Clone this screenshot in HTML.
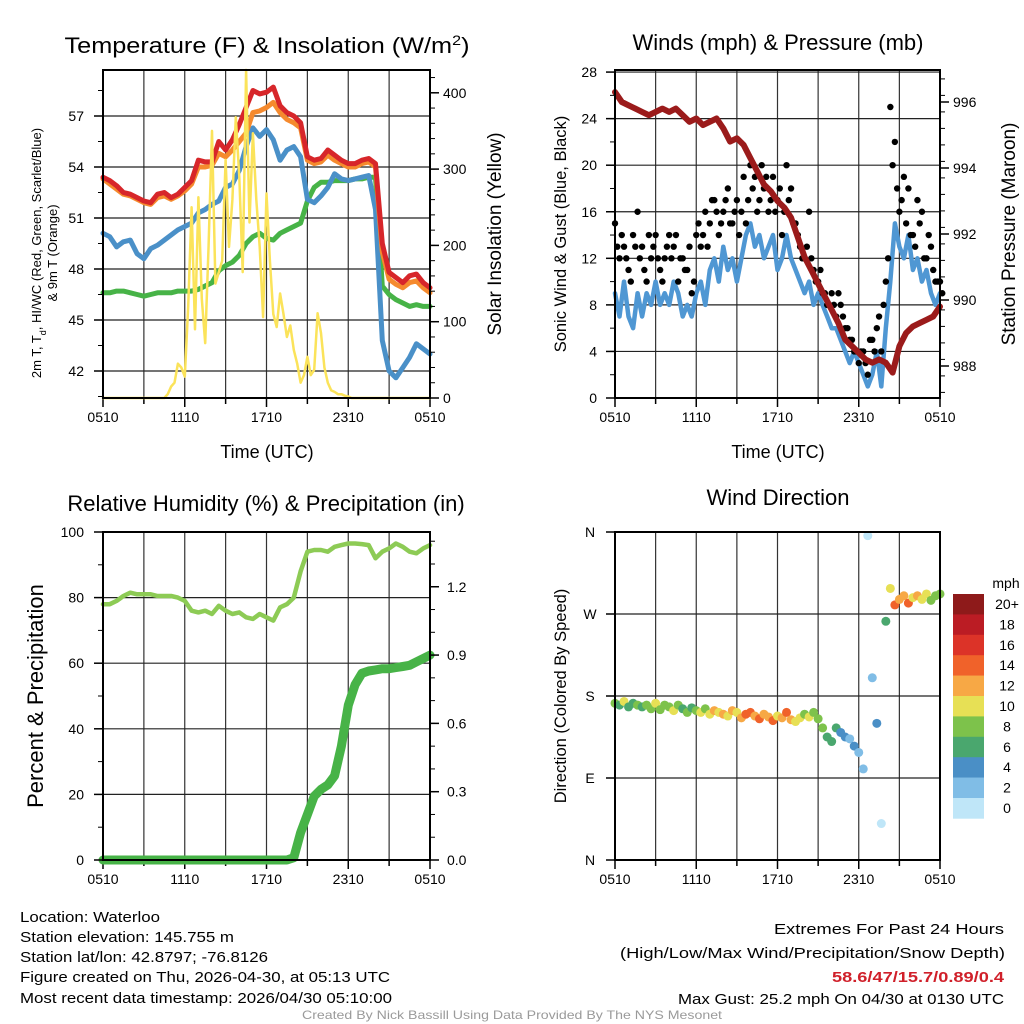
<!DOCTYPE html>
<html><head><meta charset="utf-8"><style>
html,body{margin:0;padding:0;background:#fff}
svg{display:block;font-family:"Liberation Sans",sans-serif}
</style></head><body>
<svg id="c" width="1024" height="1024" viewBox="0 0 1024 1024">
<rect width="1024" height="1024" fill="#fff"/>
<text x="267" y="53" font-size="22" text-anchor="middle" textLength="405" lengthAdjust="spacingAndGlyphs">Temperature (F) &amp; Insolation (W/m<tspan baseline-shift="super" font-size="14">2</tspan>)</text>
<text x="778" y="50" font-size="22" text-anchor="middle">Winds (mph) &amp; Pressure (mb)</text>
<text x="266" y="511" font-size="22" text-anchor="middle">Relative Humidity (%) &amp; Precipitation (in)</text>
<text x="778" y="505" font-size="22" text-anchor="middle">Wind Direction</text>

<text transform="translate(41,253) rotate(-90)" font-size="13" text-anchor="middle">2m T, T<tspan baseline-shift="sub" font-size="9">d</tspan>, HI/WC (Red, Green, Scarlet/Blue)</text>
<text transform="translate(57,253) rotate(-90)" font-size="13" text-anchor="middle">&amp; 9m T (Orange)</text>
<text transform="translate(501,234) rotate(-90)" font-size="19" text-anchor="middle">Solar Insolation (Yellow)</text>
<text transform="translate(566,234) rotate(-90)" font-size="16.5" text-anchor="middle">Sonic Wind &amp; Gust (Blue, Black)</text>
<text transform="translate(1015,234) rotate(-90)" font-size="19" text-anchor="middle">Station Pressure (Maroon)</text>
<text transform="translate(43,696) rotate(-90)" font-size="22" text-anchor="middle">Percent &amp; Precipitation</text>
<text transform="translate(566,696) rotate(-90)" font-size="16.5" text-anchor="middle">Direction (Colored By Speed)</text>
<text x="267" y="458" font-size="18" text-anchor="middle">Time (UTC)</text>
<text x="778" y="458" font-size="18" text-anchor="middle">Time (UTC)</text>

<g font-size="15">
<text x="20" y="922" textLength="140" lengthAdjust="spacingAndGlyphs">Location: Waterloo</text>
<text x="20" y="942" textLength="214" lengthAdjust="spacingAndGlyphs">Station elevation: 145.755 m</text>
<text x="20" y="962" textLength="248" lengthAdjust="spacingAndGlyphs">Station lat/lon: 42.8797; -76.8126</text>
<text x="20" y="982" textLength="370" lengthAdjust="spacingAndGlyphs">Figure created on Thu, 2026-04-30, at 05:13 UTC</text>
<text x="20" y="1003" textLength="372" lengthAdjust="spacingAndGlyphs">Most recent data timestamp: 2026/04/30 05:10:00</text>
</g>
<g font-size="15" text-anchor="end">
<text x="1004" y="934" textLength="230" lengthAdjust="spacingAndGlyphs">Extremes For Past 24 Hours</text>
<text x="1005" y="958" textLength="385" lengthAdjust="spacingAndGlyphs">(High/Low/Max Wind/Precipitation/Snow Depth)</text>
<text x="1004" y="982" fill="#d0202a" font-weight="bold" textLength="172" lengthAdjust="spacingAndGlyphs">58.6/47/15.7/0.89/0.4</text>
<text x="1004" y="1004" textLength="326" lengthAdjust="spacingAndGlyphs">Max Gust: 25.2 mph On 04/30 at 0130 UTC</text>
</g>
<text x="512" y="1019" font-size="12" fill="#9a9a9a" text-anchor="middle" textLength="420" lengthAdjust="spacingAndGlyphs">Created By Nick Bassill Using Data Provided By The NYS Mesonet</text>
</svg>
<script>
// ---- data (hours since 0510 UTC) ----
const xTickLabels = ["0510","1110","1710","2310","0510"];
const redTemp = [53.4,53.2,52.9,52.5,52.4,52.2,52.0,51.9,
52.4,52.5,52.2,52.4,52.8,53.2,54.4,54.3,
54.3,55.5,55.0,55.6,56.5,57.5,58.5,58.3,
58.4,58.7,57.6,57.2,57.0,56.6,54.6,54.4,
54.5,55.0,54.7,54.4,54.2,54.2,54.4,54.5,
54.2,49.5,47.8,47.5,47.2,47.6,47.7,47.2,
46.9];
const orangeTemp = [53.3,53.0,52.7,52.4,52.3,52.1,51.9,51.8,
52.2,52.3,52.1,52.3,52.6,53.0,54.0,54.0,
54.1,54.8,54.6,55.0,55.5,56.0,57.2,57.3,
57.5,57.8,57.2,56.8,56.6,56.3,54.4,54.2,
54.3,54.7,54.4,54.2,54.0,54.0,54.2,54.3,
54.0,49.0,47.4,47.1,46.9,47.2,47.3,46.9,
46.6];
const blueTemp = [50.1,49.9,49.3,49.6,49.7,48.9,48.6,49.2,
49.4,49.7,50.0,50.3,50.5,50.7,51.3,51.5,
51.8,52.0,52.8,53.0,53.8,55.2,56.3,55.8,
56.2,55.6,54.4,55.0,55.2,54.6,52.1,51.9,
52.3,52.8,53.6,53.3,53.2,53.3,53.4,53.5,
51.5,43.8,42.0,41.6,42.2,42.8,43.6,43.3,
43.0];
const greenTemp = [46.6,46.6,46.7,46.7,46.6,46.5,46.4,46.5,
46.6,46.6,46.6,46.7,46.7,46.7,46.8,47.0,
47.2,47.9,48.2,48.4,48.8,49.5,49.9,50.1,
49.8,49.7,50.1,50.3,50.5,50.7,52.0,52.8,
53.1,53.1,53.2,53.2,53.2,53.3,53.3,53.4,
53.4,47.0,46.5,46.2,46.0,45.8,45.9,45.8,
45.8];
const solar = [0,0,0,0,0,0,0,0,0,0,0,0,0,0,0,0,0,0,
0,5,15,20,45,40,28,120,250,90,263,130,72,200,350,150,165,180,312,198,260,368,290,165,430,230,347,260,198,106,268,180,110,93,137,110,80,95,63,45,20,30,54,30,37,111,85,40,20,10,8,5,5,3,2,
0,0,0,0,0,0,0,0,0,0,0,0,0,0,0,0,0,0,0,0,0,0,0,0];
const windSpeed = [9,7,10,7,6,9, 7,9,8,10,8,9, 8,10,9,7,8,7, 9,10,8,11,12,10,
13,11,12,10,12,14, 15,13,14,12,13,14, 11,12,14,12,11,10, 9,10,8,9,8,7,
6,6,5,4,3,4, 3,2,1,2,4,1, 6,10,15,13,12,14, 11,12,10,11,9,8, 9];
const windGust = [15,12,13,11,14,16, 13,10,12,14,11,12, 14,13,10,12,11,9, 14,13,16,15,17,14,
16,18,15,17,16,15, 20,19,17,18,16,19, 17,14,20,18,15,13, 12,16,11,10,9,8,
9,7,8,6,5,4, 3,4,2,5,6,4, 10,25,22,16,19,18, 14,17,16,12,13,10, 10];
const windGustB = [13,14,12,10,13,12, 11,14,13,12,10,13, 12,14,12,11,13,10, 15,14,13,17,16,15,
17,15,16,14,19,17, 18,16,20,19,17,16, 18,16,17,15,14,12, 13,12,10,11,9,8,
8,9,7,6,5,4, 4,3,5,4,7,8, 12,20,18,17,15,14, 13,15,12,14,11,10, 9];
const windDir = [172,170,174,168,172,170, 168,170,166,172,165,170, 168,164,170,166,162,167,
164,162,166,160,164,162, 160,158,164,162,156,160, 162,158,155,160,157,153,
158,156,162,154,152,156, 160,157,162,155,145,135, 130,145,140,135,133,125,
118,100,356,200,150,40, 262,298,280,286,290,282, 288,290,286,292,285,290, 292];
const pressure = [996.3,996.0,995.9,995.8,995.7,995.6,995.7,995.8,
995.7,995.8,995.6,995.4,995.5,995.3,995.4,995.5,
995.2,994.8,994.9,994.7,994.3,993.9,993.5,993.3,
993.0,992.8,992.5,991.9,991.3,990.9,990.5,990.1,
989.7,989.3,988.8,988.6,988.4,988.2,988.1,988.2,
988.1,987.8,988.6,989.0,989.2,989.3,989.4,989.5,
989.8];
const relHum = [78,78,79,80.5,81.5,81,81,81,
80.5,80.5,80.5,80,79,76,75.5,76,
75,77.5,76,75,75.5,74,73.5,75,
74,73,77,78,80,88,94,94.5,
94.5,94,95.5,96,96.5,96.5,96.3,96,
92,94,95,96.5,95.5,94,93.5,95,
96];
const precip = [0,0,0,0,0,0,0,0, 0,0,0,0,0,0,0,0, 0,0,0,0,0,0,0,0, 0,0,0,0,
0.01,0.12,0.2,0.28,0.31,0.33,0.37,0.5,0.68,0.77,0.82,0.83,0.835,0.84,0.84,0.845,0.85,0.855,0.87,0.885,0.9];
const tempTicks = [42,45,48,51,54,57];
const solarTicks = [0,100,200,300,400];
const windTicks = [0,4,8,12,16,20,24,28];
const presTicks = [988,990,992,994,996];
const rhTicks = [0,20,40,60,80,100];
const pcpTicks = ["0.0","0.3","0.6","0.9","1.2"];
const dirTicks = [0,90,180,270,360];
const dirTickLabels = ["N","E","S","W","N"];
const speedBins = ["0","2","4","6","8","10","12","14","16","18","20+"];
const speedColors = ["#bfe6f8","#80bde6","#4a8fc6","#4aa76e","#7dc24b","#e7e055","#f7a845","#f0622a","#dc3328","#bb1c24","#8e1a1a"];

const NS = "http://www.w3.org/2000/svg";
const svg = document.getElementById("c");
function mk(tag, attrs, parent){ const e=document.createElementNS(NS,tag); for(const k in attrs) e.setAttribute(k,attrs[k]); (parent||svg).appendChild(e); return e; }
const P1={x0:103,x1:430,y0:70,y1:398}, P2={x0:615,x1:940,y0:70,y1:398}, P3={x0:103,x1:430,y0:532,y1:860}, P4={x0:615,x1:940,y0:532,y1:860};
const xH=(P,h)=>P.x0+h*(P.x1-P.x0)/24;
const tempY=f=>116+(57-f)*17, solY=w=>398-w*0.763;
const windY=m=>398-m*11.64, presY=p=>366-(p-988)*33;
const rhY=r=>860-r*3.28, pcpY=p=>860-p*227.7;
const dirY=d=>860-d*328/360;

function frame(P, name, hGrid){
  const g=mk("g",{});
  
  
  for(let h=3;h<24;h+=3){ const l=mk("line",{x1:xH(P,h),x2:xH(P,h),y1:P.y0,y2:P.y1,stroke:"#333","stroke-width":1.2},g);
    
     }
  hGrid.forEach(y=>{ const l=mk("line",{x1:P.x0,x2:P.x1,y1:y,y2:y,stroke:"#222","stroke-width":1.2},g);
    
     });
  for(let h=0;h<=24;h+=3){ const t=mk("line",{x1:xH(P,h),x2:xH(P,h),y1:P.y1,y2:P.y1+(h%6===0?9:6),stroke:"#000","stroke-width":1.5},g);
    
     }
  xTickLabels.forEach((s,i)=>{ const t=mk("text",{x:xH(P,i*6),y:P.y1+24,"font-size":14,"text-anchor":"middle"},g); t.textContent=s;
    
     });
}
function frameBox(P,name){
  const r=mk("rect",{x:P.x0,y:P.y0,width:P.x1-P.x0,height:P.y1-P.y0,fill:"none",stroke:"#000","stroke-width":2});
  
  
}
function yTicks(P, vals, fy, labels, side, lx, name){
  const g=mk("g",{});
  
  
  const x=side==="l"?P.x0:P.x1, d=side==="l"?-9:9;
  vals.forEach((v,i)=>{ const y=fy(v);
    const t=mk("line",{x1:x,x2:x+d,y1:y,y2:y,stroke:"#000","stroke-width":1.5},g);
    
    
    const tx=mk("text",{x:lx,y:y+5,"font-size":14,"text-anchor":side==="l"?"end":"start"},g); tx.textContent=labels?labels[i]:v;
    
     });
}
function minor(P, side, yStart, yEnd, step){
  const x=side==="l"?P.x0:P.x1, d=side==="l"?-5:5;
  for(let y=yStart;(step>0?y<=yEnd:y>=yEnd);y+=step){ const t=mk("line",{x1:x,x2:x+d,y1:y,y2:y,stroke:"#000","stroke-width":1});
    
     }
}
function line(P, arr, step, fy, color, w, name){
  const pts=arr.map((v,i)=>xH(P,i*step).toFixed(1)+","+fy(v).toFixed(1)).join(" ");
  const e=mk("polyline",{points:pts,fill:"none",stroke:color,"stroke-width":w,"stroke-linejoin":"round","stroke-linecap":"round"});
  
  
}

// Panel 1
frame(P1,"temperature",tempTicks.map(tempY));
line(P1,greenTemp,0.5,tempY,"#47b347",5,"dewpoint-green-line");
line(P1,blueTemp,0.5,tempY,"#4a90c8",5,"windchill-blue-line");
line(P1,orangeTemp,0.5,tempY,"#f58a2e",5,"9m-temp-orange-line");
line(P1,redTemp,0.5,tempY,"#d7262a",5,"2m-temp-red-line");
line(P1,solar,0.25,solY,"#fbe35a",2.5,"solar-insolation-line");
frameBox(P1,"temperature");
yTicks(P1,tempTicks,tempY,null,"l",84,"temperature-y-ticks");
yTicks(P1,solarTicks,solY,null,"r",443,"solar-y-ticks");
minor(P1,"l",tempY(58.5),tempY(40.5),25.5);
minor(P1,"r",solY(0),solY(420),-0.763*20);

// Panel 2
frame(P2,"winds",windTicks.map(windY));
line(P2,windSpeed,1/3,windY,"#4f97d3",4.5,"sonic-wind-line");
const gg=mk("g",{});


windGust.forEach((v,i)=>{ const c=mk("circle",{cx:xH(P2,i/3),cy:windY(v),r:3.2,fill:"#000"},gg);
  
   });
windGustB.forEach((v,i)=>{ const c=mk("circle",{cx:xH(P2,i/3+1/6),cy:windY(v),r:3.2,fill:"#000"},gg);
  
   });
line(P2,pressure,0.5,presY,"#9b1b1b",6,"pressure-line");
frameBox(P2,"winds");
yTicks(P2,windTicks,windY,null,"l",597,"wind-y-ticks");
yTicks(P2,presTicks,presY,null,"r",953,"pressure-y-ticks");
minor(P2,"l",windY(2),windY(26),-23.28);
minor(P2,"r",presY(987.2),presY(996.8),-16.5);

// Panel 3
frame(P3,"humidity",rhTicks.map(rhY));
line(P3,relHum,0.5,rhY,"#8dcb55",4.5,"relative-humidity-line");
line(P3,precip,0.5,pcpY,"#47b347",9,"precipitation-line");
frameBox(P3,"humidity");
yTicks(P3,rhTicks,rhY,null,"l",84,"humidity-y-ticks");
yTicks(P3,pcpTicks.map(Number),pcpY,pcpTicks,"r",447,"precip-y-ticks");
minor(P3,"l",rhY(10),rhY(90),-65.6);
minor(P3,"r",pcpY(0.1),pcpY(1.4),-22.77);

// Panel 4
frame(P4,"direction",[dirY(90),dirY(180),dirY(270)]);
const dg=mk("g",{});


windDir.forEach((d,i)=>{ const b=Math.min(10,Math.floor(windSpeed[i]/2));
  const c=mk("circle",{cx:xH(P4,i/3),cy:dirY(d),r:4.5,fill:speedColors[b]},dg);
  
   });
frameBox(P4,"direction");
dirTicks.forEach((d,i)=>{ const y=dirY(d);
  const t=mk("line",{x1:P4.x0-9,x2:P4.x0,y1:y,y2:y,stroke:"#000","stroke-width":1.5});
  
  
  const tx=mk("text",{x:590,y:y+5,"font-size":14,"text-anchor":"middle"}); tx.textContent=dirTickLabels[i];
  
   });
const cb=mk("g",{});


const cbTop=594, cbH=20.4;
const ut=mk("text",{x:1006,y:588,"font-size":14,"text-anchor":"middle"},cb); ut.textContent="mph";


speedBins.forEach((s,i)=>{ const k=speedBins.length-1-i; const y=cbTop+i*cbH;
  const r=mk("rect",{x:953,y:y,width:31,height:cbH+0.3,fill:speedColors[k]},cb);
  
  
  const t=mk("text",{x:1007,y:y+15,"font-size":14,"text-anchor":"middle"},cb); t.textContent=speedBins[k];
  
   });
</script>
</body></html>
